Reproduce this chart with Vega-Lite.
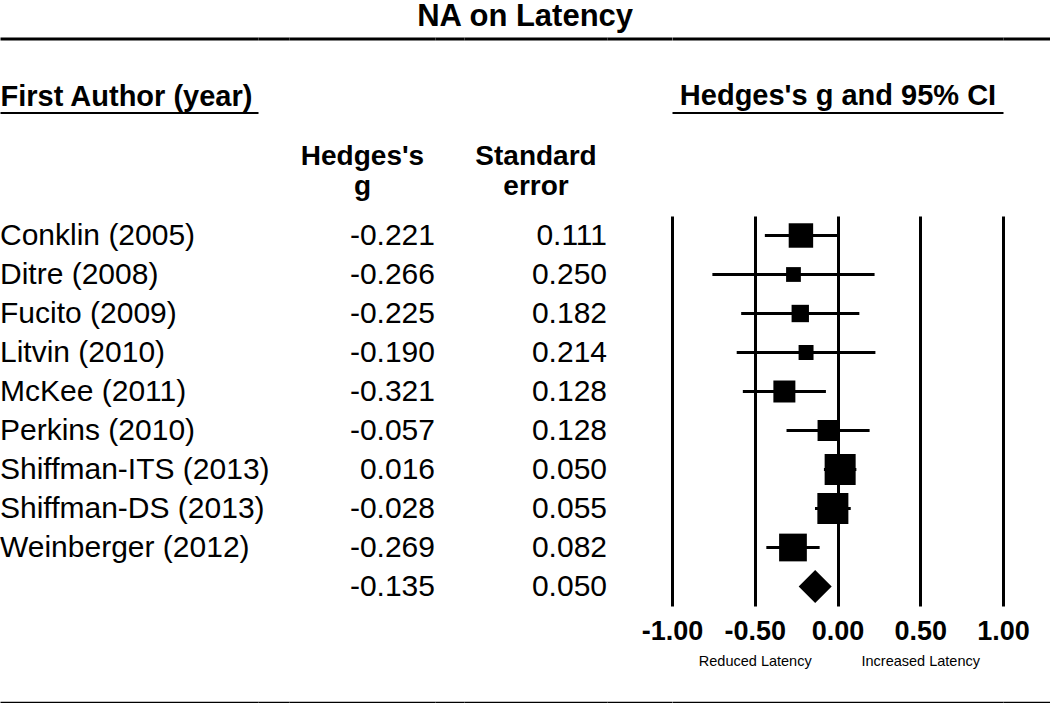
{
  "$schema": "https://vega.github.io/schema/vega-lite/v6.json",
  "padding": 0,
  "background": "white",
  "bounds": "flush",
  "spacing": 0,
  "title": {"text": "NA on Latency", "fontSize": 31, "fontWeight": "bold", "anchor": "middle", "offset": 6, "color": "black"},
  "datasets": {
    "forest": [
      {"study": "Conklin (2005)", "author": "Conklin (2005)", "g": -0.221, "se": 0.111, "lo": -0.439, "hi": -0.003, "weight": 11.5, "kind": "study"},
      {"study": "Ditre (2008)", "author": "Ditre (2008)", "g": -0.266, "se": 0.250, "lo": -0.756, "hi": 0.224, "weight": 4.2, "kind": "study"},
      {"study": "Fucito (2009)", "author": "Fucito (2009)", "g": -0.225, "se": 0.182, "lo": -0.582, "hi": 0.132, "weight": 5.8, "kind": "study"},
      {"study": "Litvin (2010)", "author": "Litvin (2010)", "g": -0.190, "se": 0.214, "lo": -0.609, "hi": 0.229, "weight": 4.3, "kind": "study"},
      {"study": "McKee (2011)", "author": "McKee (2011)", "g": -0.321, "se": 0.128, "lo": -0.572, "hi": -0.070, "weight": 9.3, "kind": "study"},
      {"study": "Perkins (2010)", "author": "Perkins (2010)", "g": -0.057, "se": 0.128, "lo": -0.308, "hi": 0.194, "weight": 8.5, "kind": "study"},
      {"study": "Shiffman-ITS (2013)", "author": "Shiffman-ITS (2013)", "g": 0.016, "se": 0.050, "lo": -0.082, "hi": 0.114, "weight": 18.5, "kind": "study"},
      {"study": "Shiffman-DS (2013)", "author": "Shiffman-DS (2013)", "g": -0.028, "se": 0.055, "lo": -0.136, "hi": 0.080, "weight": 18.5, "kind": "study"},
      {"study": "Weinberger (2012)", "author": "Weinberger (2012)", "g": -0.269, "se": 0.082, "lo": -0.430, "hi": -0.108, "weight": 14.8, "kind": "study"},
      {"study": "Overall", "author": "", "g": -0.135, "se": 0.050, "lo": -0.233, "hi": -0.037, "weight": 100, "kind": "summary"}
    ]
  },
  "hconcat": [
    {
      "width": 258,
      "height": 390,
      "resolve": {"axis": {"x": "independent"}},
      "layer": [
        {
          "data": {"name": "forest"},
          "transform": [{"filter": "datum.kind == 'study'"}],
          "mark": {"type": "text", "align": "left", "baseline": "middle", "fontSize": 30, "font": "Liberation Sans", "color": "black"},
          "encoding": {
            "x": {"datum": 0, "type": "quantitative", "scale": {"domain": [0, 1]},
              "axis": {"orient": "top", "offset": 103.5, "domain": true, "domainColor": "black", "domainWidth": 2, "labels": false, "ticks": false, "grid": false,
                "title": "First Author (year)", "titleAnchor": "start", "titleFontSize": 29, "titleFontWeight": "bold", "titlePadding": 1}},
            "y": {"field": "study", "type": "nominal", "scale": {"type": "point", "padding": 0.5, "domain": ["Conklin (2005)","Ditre (2008)","Fucito (2009)","Litvin (2010)","McKee (2011)","Perkins (2010)","Shiffman-ITS (2013)","Shiffman-DS (2013)","Weinberger (2012)","Overall"]}, "axis": null},
            "text": {"field": "author"}
          }
        },
        {"data": {"values": []}, "mark": "point", "encoding": {"x": {"field": "v", "type": "quantitative", "axis": {"orient": "top", "offset": 177.5, "domain": true, "domainColor": "black", "domainWidth": 3, "labels": false, "ticks": false, "grid": false, "title": null}}}},
        {"data": {"values": []}, "mark": "point", "encoding": {"x": {"field": "v", "type": "quantitative", "axis": {"orient": "bottom", "offset": 97, "domain": true, "domainColor": "black", "domainWidth": 3.5, "labels": false, "ticks": false, "grid": false, "title": null}}}}
      ]
    },
    {
      "width": 31,
      "height": 390,
      "resolve": {"axis": {"x": "independent"}},
      "layer": [
        {"data": {"values": []}, "mark": "point", "encoding": {"x": {"field": "v", "type": "quantitative", "scale": {"domain": [0, 1]}, "axis": {"orient": "top", "offset": 177.5, "domain": true, "domainColor": "black", "domainWidth": 3, "labels": false, "ticks": false, "grid": false, "title": null}}}},
        {"data": {"values": []}, "mark": "point", "encoding": {"x": {"field": "v", "type": "quantitative", "axis": {"orient": "bottom", "offset": 97, "domain": true, "domainColor": "black", "domainWidth": 3.5, "labels": false, "ticks": false, "grid": false, "title": null}}}}
      ]
    },
    {
      "width": 146,
      "height": 390,
      "resolve": {"axis": {"x": "independent"}},
      "layer": [
        {
          "data": {"name": "forest"},
          "mark": {"type": "text", "align": "right", "baseline": "middle", "fontSize": 30, "font": "Liberation Sans", "color": "black"},
          "encoding": {
            "x": {"datum": 1, "type": "quantitative", "scale": {"domain": [0, 1]},
              "axis": {"orient": "top", "domain": false, "labels": false, "ticks": false, "grid": false,
                "title": ["Hedges's", "g"], "titleFontSize": 28, "titleFontWeight": "bold", "titleLineHeight": 30, "titlePadding": 16}},
            "y": {"field": "study", "type": "nominal", "scale": {"type": "point", "padding": 0.5, "domain": ["Conklin (2005)","Ditre (2008)","Fucito (2009)","Litvin (2010)","McKee (2011)","Perkins (2010)","Shiffman-ITS (2013)","Shiffman-DS (2013)","Weinberger (2012)","Overall"]}, "axis": null},
            "text": {"field": "g", "format": ".3f"}
          }
        },
        {"data": {"values": []}, "mark": "point", "encoding": {"x": {"field": "v", "type": "quantitative", "axis": {"orient": "top", "offset": 177.5, "domain": true, "domainColor": "black", "domainWidth": 3, "labels": false, "ticks": false, "grid": false, "title": null}}}},
        {"data": {"values": []}, "mark": "point", "encoding": {"x": {"field": "v", "type": "quantitative", "axis": {"orient": "bottom", "offset": 97, "domain": true, "domainColor": "black", "domainWidth": 3.5, "labels": false, "ticks": false, "grid": false, "title": null}}}}
      ]
    },
    {
      "width": 29,
      "height": 390,
      "resolve": {"axis": {"x": "independent"}},
      "layer": [
        {"data": {"values": []}, "mark": "point", "encoding": {"x": {"field": "v", "type": "quantitative", "scale": {"domain": [0, 1]}, "axis": {"orient": "top", "offset": 177.5, "domain": true, "domainColor": "black", "domainWidth": 3, "labels": false, "ticks": false, "grid": false, "title": null}}}},
        {"data": {"values": []}, "mark": "point", "encoding": {"x": {"field": "v", "type": "quantitative", "axis": {"orient": "bottom", "offset": 97, "domain": true, "domainColor": "black", "domainWidth": 3.5, "labels": false, "ticks": false, "grid": false, "title": null}}}}
      ]
    },
    {
      "width": 143,
      "height": 390,
      "resolve": {"axis": {"x": "independent"}},
      "layer": [
        {
          "data": {"name": "forest"},
          "mark": {"type": "text", "align": "right", "baseline": "middle", "fontSize": 30, "font": "Liberation Sans", "color": "black"},
          "encoding": {
            "x": {"datum": 1, "type": "quantitative", "scale": {"domain": [0, 1]},
              "axis": {"orient": "top", "domain": false, "labels": false, "ticks": false, "grid": false,
                "title": ["Standard", "error"], "titleFontSize": 28, "titleFontWeight": "bold", "titleLineHeight": 30, "titlePadding": 16}},
            "y": {"field": "study", "type": "nominal", "scale": {"type": "point", "padding": 0.5, "domain": ["Conklin (2005)","Ditre (2008)","Fucito (2009)","Litvin (2010)","McKee (2011)","Perkins (2010)","Shiffman-ITS (2013)","Shiffman-DS (2013)","Weinberger (2012)","Overall"]}, "axis": null},
            "text": {"field": "se", "format": ".3f"}
          }
        },
        {"data": {"values": []}, "mark": "point", "encoding": {"x": {"field": "v", "type": "quantitative", "axis": {"orient": "top", "offset": 177.5, "domain": true, "domainColor": "black", "domainWidth": 3, "labels": false, "ticks": false, "grid": false, "title": null}}}},
        {"data": {"values": []}, "mark": "point", "encoding": {"x": {"field": "v", "type": "quantitative", "axis": {"orient": "bottom", "offset": 97, "domain": true, "domainColor": "black", "domainWidth": 3.5, "labels": false, "ticks": false, "grid": false, "title": null}}}}
      ]
    },
    {
      "width": 64.7,
      "height": 390,
      "resolve": {"axis": {"x": "independent"}},
      "layer": [
        {"data": {"values": []}, "mark": "point", "encoding": {"x": {"field": "v", "type": "quantitative", "scale": {"domain": [0, 1]}, "axis": {"orient": "top", "offset": 177.5, "domain": true, "domainColor": "black", "domainWidth": 3, "labels": false, "ticks": false, "grid": false, "title": null}}}},
        {"data": {"values": []}, "mark": "point", "encoding": {"x": {"field": "v", "type": "quantitative", "axis": {"orient": "bottom", "offset": 97, "domain": true, "domainColor": "black", "domainWidth": 3.5, "labels": false, "ticks": false, "grid": false, "title": null}}}}
      ]
    },
    {
      "width": 331,
      "height": 390,
      "resolve": {"axis": {"x": "independent"}},
      "layer": [
        {
          "data": {"name": "forest"},
          "transform": [{"filter": "datum.kind == 'study'"}],
          "mark": {"type": "rule", "color": "black", "strokeWidth": 3},
          "encoding": {
            "x": {"field": "lo", "type": "quantitative", "scale": {"domain": [-1, 1], "nice": false},
              "axis": {"orient": "bottom", "values": [-1, -0.5, 0, 0.5, 1], "format": ".2f", "labelFontSize": 27, "labelFontWeight": "bold", "labelPadding": 12,
                "labelFlush": false, "labelOverlap": false, "ticks": false, "domain": false, "grid": true, "gridColor": "black", "gridWidth": 3, "gridOpacity": 1, "title": null}},
            "x2": {"field": "hi"},
            "y": {"field": "study", "type": "nominal", "scale": {"type": "point", "padding": 0.5, "domain": ["Conklin (2005)","Ditre (2008)","Fucito (2009)","Litvin (2010)","McKee (2011)","Perkins (2010)","Shiffman-ITS (2013)","Shiffman-DS (2013)","Weinberger (2012)","Overall"]}, "axis": null}
          }
        },
        {
          "data": {"name": "forest"},
          "transform": [{"filter": "datum.kind == 'study'"}],
          "mark": {"type": "point", "shape": "square", "filled": true, "color": "black", "opacity": 1, "strokeWidth": 0},
          "encoding": {
            "x": {"field": "g", "type": "quantitative",
              "axis": {"orient": "top", "offset": 103.5, "domain": true, "domainColor": "black", "domainWidth": 2, "labels": false, "ticks": false, "grid": false,
                "title": "Hedges's g and 95% CI", "titleFontSize": 29, "titleFontWeight": "bold", "titlePadding": 2}},
            "y": {"field": "study", "type": "nominal", "axis": null},
            "size": {"field": "weight", "type": "quantitative", "scale": {"type": "linear", "domain": [0, 20], "range": [0, 1040]}, "legend": null}
          }
        },
        {
          "data": {"name": "forest"},
          "transform": [{"filter": "datum.kind == 'summary'"}],
          "mark": {"type": "point", "shape": "diamond", "filled": true, "color": "black", "opacity": 1, "strokeWidth": 0, "size": 1089},
          "encoding": {
            "x": {"field": "g", "type": "quantitative",
              "axis": {"orient": "bottom", "values": [-0.5, 0.5], "labelExpr": "datum.value < 0 ? 'Reduced Latency' : 'Increased Latency'", "labelFontSize": 14.5, "labelFontWeight": "normal",
                "labelPadding": 48, "labelFlush": false, "labelOverlap": false, "ticks": false, "domain": false, "grid": false, "title": null}},
            "y": {"field": "study", "type": "nominal", "axis": null}
          }
        },
        {"data": {"values": []}, "mark": "point", "encoding": {"x": {"field": "v", "type": "quantitative", "axis": {"orient": "top", "offset": 177.5, "domain": true, "domainColor": "black", "domainWidth": 3, "labels": false, "ticks": false, "grid": false, "title": null}}}},
        {"data": {"values": []}, "mark": "point", "encoding": {"x": {"field": "v", "type": "quantitative", "axis": {"orient": "bottom", "offset": 97, "domain": true, "domainColor": "black", "domainWidth": 3.5, "labels": false, "ticks": false, "grid": false, "title": null}}}}
      ]
    },
    {
      "width": 47.3,
      "height": 390,
      "resolve": {"axis": {"x": "independent"}},
      "layer": [
        {"data": {"values": []}, "mark": "point", "encoding": {"x": {"field": "v", "type": "quantitative", "scale": {"domain": [0, 1]}, "axis": {"orient": "top", "offset": 177.5, "domain": true, "domainColor": "black", "domainWidth": 3, "labels": false, "ticks": false, "grid": false, "title": null}}}},
        {"data": {"values": []}, "mark": "point", "encoding": {"x": {"field": "v", "type": "quantitative", "axis": {"orient": "bottom", "offset": 97, "domain": true, "domainColor": "black", "domainWidth": 3.5, "labels": false, "ticks": false, "grid": false, "title": null}}}}
      ]
    }
  ],
  "config": {
    "view": {"stroke": null},
    "font": "Liberation Sans",
    "locale": {"number": {"decimal": ".", "thousands": ",", "grouping": [3], "currency": ["$", ""], "minus": "-"}},
    "axis": {"labelColor": "black", "titleColor": "black", "labelFont": "Liberation Sans", "titleFont": "Liberation Sans"},
    "title": {"color": "black", "font": "Liberation Sans"},
    "text": {"color": "black"}
  }
}
